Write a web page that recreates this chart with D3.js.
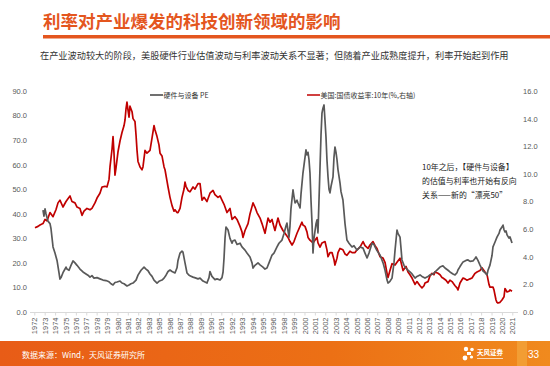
<!DOCTYPE html>
<html><head><meta charset="utf-8">
<script src="https://cdn.jsdelivr.net/npm/d3@7"></script>
<style>
html,body{margin:0;padding:0;background:#fff;}
svg{display:block;}
text{font-family:"Noto Sans CJK SC","Liberation Sans",Arial,sans-serif;}
.num{font-family:"Liberation Sans",Arial,sans-serif;}
</style></head><body>
<svg id="c" width="550" height="366"></svg>
<script>
const title = "利率对产业爆发的科技创新领域的影响";
const subtitle = "在产业波动较大的阶段，美股硬件行业估值波动与利率波动关系不显著；但随着产业成熟度提升，利率开始起到作用";
const seriesNames = ["硬件与设备 PE", "美国:国债收益率:10年(%,右轴)"];
const annotation = ["10年之后，【硬件与设备】", "的估值与利率也开始有反向", "关系——新的“漂亮50”"];
const source = "数据来源：Wind，天风证券研究所";
const pageNo = "33";
const xTickLabels = ["1972","1973","1974","1975","1976","1977","1978","1979","1980","1981","1982","1983","1985","1986","1987","1988","1989","1990","1991","1992","1993","1994","1995","1996","1998","1999","2000","2001","2002","2003","2004","2005","2006","2007","2008","2009","2011","2012","2013","2014","2015","2016","2017","2018","2019","2020","2021"];
const leftTicks = [0,10,20,30,40,50,60,70,80,90];
const rightTicks = [0,2,4,6,8,10,12,14,16];

// 硬件与设备 PE: [time, value]
const peData = [[1972.89,41.5],[1972.99,39],[1973.10,42],[1973.20,40],[1973.40,37],[1973.61,36],[1973.71,34],[1973.92,26.5],[1974.12,24],[1974.33,21],[1974.53,16],[1974.63,13.4],[1974.74,14],[1974.94,16],[1975.15,17.5],[1975.25,18.3],[1975.35,17.5],[1975.56,17],[1975.76,19],[1975.97,20.8],[1976.17,20],[1976.38,19],[1976.68,17.5],[1976.99,16.3],[1977.30,15.5],[1977.50,15],[1977.71,14.2],[1977.91,14.8],[1978.12,13.8],[1978.43,14],[1978.73,13.5],[1979.04,13],[1979.35,12.8],[1979.66,12.3],[1979.86,11.5],[1980.07,11],[1980.27,12],[1980.48,12.2],[1980.79,12.6],[1980.99,11.8],[1981.20,11.5],[1981.50,10.6],[1981.71,11],[1981.91,11.5],[1982.12,11.8],[1982.43,13],[1982.63,15],[1982.94,17],[1983.25,18.3],[1983.45,17.5],[1983.66,16.8],[1983.86,15.5],[1984.07,14.5],[1984.27,13],[1984.58,11.8],[1984.78,12.5],[1985.09,13],[1985.30,13.8],[1985.50,15],[1985.71,16.5],[1985.91,17.1],[1986.12,16.5],[1986.42,15.9],[1986.63,18],[1986.73,21],[1986.94,24],[1987.14,24.8],[1987.24,24.4],[1987.45,20],[1987.65,15.9],[1987.86,15],[1988.06,14.6],[1988.27,14.2],[1988.58,13.8],[1988.78,13.5],[1988.99,13.8],[1989.29,12.6],[1989.50,12.2],[1989.70,11.8],[1989.91,14],[1990.01,16.5],[1990.21,14.5],[1990.52,13.2],[1990.73,13.5],[1991.04,13],[1991.24,14],[1991.35,16.3],[1991.45,22],[1991.55,30],[1991.65,34.6],[1991.86,33.4],[1992.06,30],[1992.27,28],[1992.37,29],[1992.57,29.3],[1992.78,27.5],[1993.09,28],[1993.29,26.5],[1993.60,25.2],[1993.80,24],[1994.11,22.4],[1994.32,20],[1994.42,17.9],[1994.62,19],[1994.93,20],[1995.14,19.2],[1995.44,18.3],[1995.65,17.5],[1995.85,17.9],[1996.06,20],[1996.37,23.2],[1996.57,24],[1996.88,26.5],[1997.08,28],[1997.39,29.3],[1997.60,32],[1997.80,35],[1997.90,36.2],[1998.01,33],[1998.11,30.5],[1998.21,35],[1998.31,42],[1998.52,49.7],[1998.62,47],[1998.73,44.4],[1998.93,45.5],[1999.03,44.4],[1999.24,42.4],[1999.34,48],[1999.54,56.6],[1999.75,63],[1999.85,66],[1999.95,64],[2000.06,65],[2000.16,62],[2000.26,56.6],[2000.37,45],[2000.47,36.2],[2000.57,24],[2000.67,30],[2000.88,36],[2000.98,37.5],[2001.08,32.2],[2001.18,45],[2001.29,59],[2001.39,72],[2001.49,81],[2001.59,83],[2001.70,84.3],[2001.80,78],[2001.90,71.3],[2002.00,62],[2002.11,55],[2002.21,50],[2002.31,48.5],[2002.41,51],[2002.62,55],[2002.72,63],[2002.82,67.2],[2002.93,65],[2003.03,62],[2003.13,58],[2003.34,52.5],[2003.44,49],[2003.64,45.6],[2003.85,36],[2004.05,29.3],[2004.26,28],[2004.57,26.5],[2004.77,27],[2005.08,25.2],[2005.39,26.5],[2005.70,26],[2005.90,24],[2006.11,22],[2006.31,24],[2006.62,28],[2006.82,27.5],[2006.93,26.5],[2007.13,25],[2007.44,23.2],[2007.75,20],[2007.95,17.1],[2008.16,13],[2008.26,11.8],[2008.46,12.5],[2008.67,13.8],[2008.87,20],[2008.98,25.2],[2009.18,33.4],[2009.28,32],[2009.49,30.5],[2009.59,26],[2009.69,21.2],[2009.90,19],[2010.00,18.3],[2010.31,17],[2010.51,16.3],[2010.72,15.5],[2011.03,13.8],[2011.23,14.5],[2011.54,15.1],[2011.74,14.5],[2012.05,13.8],[2012.36,14.5],[2012.56,15.1],[2012.87,15.5],[2013.07,16.3],[2013.38,17.5],[2013.59,18.3],[2013.89,18.8],[2014.10,17.9],[2014.41,17],[2014.61,16.3],[2014.92,15.5],[2015.13,15.1],[2015.33,16],[2015.43,17.1],[2015.64,18.5],[2015.95,20.4],[2016.25,21],[2016.46,21.2],[2016.67,20.6],[2016.97,20.8],[2017.18,21.8],[2017.28,22.4],[2017.48,21],[2017.69,19.1],[2017.89,17.5],[2018.00,16.7],[2018.20,16],[2018.41,15.1],[2018.51,17],[2018.71,19.1],[2018.92,23],[2019.02,26.5],[2019.23,28.5],[2019.43,30.5],[2019.64,32],[2019.74,33.4],[2019.94,34.6],[2020.05,35.4],[2020.15,33.5],[2020.25,32.6],[2020.36,33],[2020.46,31.4],[2020.66,30.1],[2020.76,30.6],[2020.97,28.1]];

// 美国:国债收益率:10年 (%): [time, value]
const yieldData = [[1972.07,6.1],[1972.38,6.2],[1972.58,6.3],[1972.89,6.4],[1973.10,6.7],[1973.30,6.6],[1973.61,7.2],[1973.92,6.9],[1974.22,7.4],[1974.43,7.9],[1974.63,8.1],[1974.94,7.6],[1975.25,8.0],[1975.45,8.2],[1975.66,8.4],[1975.86,8.0],[1976.17,7.9],[1976.38,7.6],[1976.68,7.5],[1976.89,7.0],[1977.09,7.3],[1977.40,7.5],[1977.71,7.4],[1977.91,7.5],[1978.22,7.9],[1978.43,8.25],[1978.73,8.6],[1978.94,9.05],[1979.25,9.1],[1979.45,9.05],[1979.66,9.6],[1979.76,10.5],[1979.97,11.8],[1980.07,12.7],[1980.17,11.5],[1980.27,9.9],[1980.37,10.4],[1980.58,11.6],[1980.79,12.4],[1980.99,13.0],[1981.20,13.5],[1981.30,13.9],[1981.40,14.7],[1981.50,15.2],[1981.61,14.6],[1981.71,14.1],[1981.81,14.9],[1982.02,14.5],[1982.12,14.0],[1982.32,13.8],[1982.43,12.8],[1982.53,11.7],[1982.63,10.9],[1982.84,10.5],[1983.04,10.3],[1983.14,10.5],[1983.35,11.7],[1983.55,11.5],[1983.86,11.7],[1984.07,12.6],[1984.27,13.5],[1984.37,13.2],[1984.58,12.7],[1984.78,12.1],[1984.89,11.5],[1985.09,11.3],[1985.30,10.5],[1985.40,10.3],[1985.60,9.5],[1985.71,9.05],[1985.91,8.3],[1986.12,7.7],[1986.32,7.3],[1986.42,7.4],[1986.63,7.2],[1986.73,7.2],[1986.94,7.5],[1987.14,8.3],[1987.35,8.9],[1987.45,9.4],[1987.55,9.1],[1987.76,8.8],[1987.96,8.7],[1988.27,9.05],[1988.47,8.9],[1988.78,9.3],[1988.99,9.3],[1989.19,8.1],[1989.40,8.3],[1989.70,8.0],[1990.01,8.6],[1990.32,8.8],[1990.52,8.5],[1990.83,8.3],[1991.04,8.4],[1991.24,8.1],[1991.45,7.8],[1991.75,7.2],[1992.06,7.5],[1992.27,6.7],[1992.57,6.9],[1992.78,6.7],[1993.09,6.2],[1993.29,5.8],[1993.39,5.4],[1993.60,5.9],[1993.91,6.4],[1994.11,7.1],[1994.42,7.9],[1994.62,7.6],[1994.83,7.2],[1995.14,6.8],[1995.34,6.4],[1995.65,5.7],[1995.96,6.8],[1996.16,6.5],[1996.37,6.7],[1996.47,6.4],[1996.67,5.9],[1996.98,6.8],[1997.19,6.3],[1997.49,5.9],[1997.70,5.7],[1998.01,5.4],[1998.21,5.1],[1998.42,4.85],[1998.62,5.1],[1998.93,5.7],[1999.24,6.2],[1999.44,6.5],[1999.54,6.3],[1999.75,6.2],[1999.95,5.8],[2000.06,5.4],[2000.26,5.2],[2000.57,5.0],[2000.77,5.2],[2000.98,5.4],[2001.08,5.0],[2001.29,4.7],[2001.49,5.0],[2001.80,5.1],[2002.00,4.5],[2002.11,4.0],[2002.31,4.3],[2002.52,4.3],[2002.72,3.8],[2002.82,3.4],[2003.03,3.9],[2003.13,4.3],[2003.34,4.6],[2003.64,4.5],[2003.85,4.2],[2004.05,4.1],[2004.36,4.4],[2004.57,4.3],[2004.88,4.3],[2005.08,4.5],[2005.39,4.7],[2005.70,5.1],[2005.90,4.8],[2006.21,4.6],[2006.41,4.85],[2006.72,5.1],[2006.93,4.8],[2007.13,4.6],[2007.44,4.0],[2007.75,3.9],[2007.95,3.6],[2008.16,2.8],[2008.26,2.5],[2008.46,3.0],[2008.67,3.5],[2008.98,3.4],[2009.18,3.6],[2009.49,3.9],[2009.59,3.6],[2009.80,3.0],[2010.10,3.3],[2010.31,2.9],[2010.51,2.7],[2010.72,2.46],[2011.03,2.0],[2011.23,2.2],[2011.54,1.9],[2011.74,1.75],[2011.95,1.9],[2012.05,2.1],[2012.36,2.2],[2012.56,2.6],[2012.77,2.8],[2012.97,2.7],[2013.07,2.9],[2013.38,2.8],[2013.59,2.7],[2013.79,2.5],[2013.89,2.46],[2014.20,2.3],[2014.41,2.1],[2014.61,2.3],[2014.82,2.2],[2015.13,1.9],[2015.33,1.75],[2015.43,1.6],[2015.64,2.1],[2015.95,2.46],[2016.15,2.4],[2016.36,2.3],[2016.67,2.4],[2016.87,2.46],[2017.18,2.8],[2017.38,2.9],[2017.69,3.0],[2017.89,3.2],[2018.00,3.1],[2018.20,2.9],[2018.41,2.7],[2018.61,2.0],[2018.71,1.8],[2019.02,1.8],[2019.12,1.6],[2019.33,0.87],[2019.43,0.7],[2019.53,0.65],[2019.74,0.7],[2019.94,0.87],[2020.15,1.1],[2020.25,1.7],[2020.46,1.45],[2020.66,1.5],[2020.76,1.6],[2020.97,1.5]];

const colors = {title:"#E4561E", pe:"#595959", yield:"#C00000", axis:"#595959"};

const svg = d3.select("#c");

// Title + underline
svg.append("text").attr("x",43).attr("y",28).attr("font-size",17.5).attr("font-weight","bold")
  .attr("fill",colors.title).text(title);
svg.append("rect").attr("x",43).attr("y",35).attr("width",507).attr("height",3.5).attr("fill",colors.title);

// Subtitle
svg.append("text").attr("x",40).attr("y",58.5).attr("font-size",9.2).attr("fill","#333").text(subtitle);

// Scales
const x = d3.scaleLinear().domain([1972, 2021]).range([34.3, 512.3]);
const xLab = d3.scalePoint().domain(xTickLabels).range([34.3, 512.3]);
const yL = d3.scaleLinear().domain([0, 90]).range([312, 91]);
const yR = d3.scaleLinear().domain([0, 16]).range([312, 91]);

// Left axis
const gL = svg.append("g").attr("transform","translate(30,0)")
  .call(d3.axisLeft(yL).tickValues(leftTicks).tickFormat(d3.format(".1f")).tickSize(0).tickPadding(3));
gL.select(".domain").remove();
gL.selectAll("text").attr("class","num").attr("font-size",7.5).attr("fill",colors.axis);

// Right axis
const gR = svg.append("g").attr("transform","translate(520,0)")
  .call(d3.axisRight(yR).tickValues(rightTicks).tickFormat(d3.format(".1f")).tickSize(0).tickPadding(3));
gR.select(".domain").remove();
gR.selectAll("text").attr("class","num").attr("font-size",7.5).attr("fill",colors.axis);

// Bottom axis
svg.append("line").attr("x1",30).attr("x2",518).attr("y1",312.5).attr("y2",312.5)
  .attr("stroke","#d9d9d9").attr("stroke-width",1);
const gB = svg.append("g").attr("transform","translate(0,312.5)")
  .call(d3.axisBottom(xLab).tickSize(3).tickSizeOuter(0));
gB.select(".domain").remove();
gB.selectAll(".tick line").attr("stroke","#d9d9d9");
gB.selectAll("text").attr("class","num").attr("font-size",7.5).attr("fill",colors.axis)
  .attr("transform","rotate(-90)").attr("text-anchor","end").attr("x",-5).attr("y",0).attr("dy","0.35em");

// Lines
const linePE = d3.line().x(d=>x(d[0])).y(d=>yL(d[1]));
const lineY = d3.line().x(d=>x(d[0])).y(d=>yR(d[1]));
svg.append("path").datum(yieldData).attr("d",lineY).attr("fill","none")
  .attr("stroke",colors.yield).attr("stroke-width",1.7).attr("stroke-linejoin","round");
svg.append("path").datum(peData).attr("d",linePE).attr("fill","none")
  .attr("stroke",colors.pe).attr("stroke-width",1.7).attr("stroke-linejoin","round");

// Legend
const leg = [{x:150, c:"#404040", t:seriesNames[0]}, {x:307, c:colors.yield, t:seriesNames[1]}];
leg.forEach(l=>{
  svg.append("line").attr("x1",l.x).attr("x2",l.x+13).attr("y1",95).attr("y2",95).attr("stroke",l.c).attr("stroke-width",1.5);
  svg.append("text").attr("x",l.x+13.5).attr("y",97.5).attr("font-size",7).attr("fill","#333").text(l.t);
});

// Annotation
svg.append("g").selectAll("text").data(annotation).join("text")
  .attr("x",422).attr("y",(d,i)=>169.5+i*14.2).attr("font-size",7.9).attr("fill","#222").text(d=>d);

// Footer
const defs = svg.append("defs");
const grad = defs.append("linearGradient").attr("id","fg").attr("x1","0").attr("x2","1").attr("y1","0").attr("y2","0");
grad.append("stop").attr("offset","0").attr("stop-color","#E85C17");
grad.append("stop").attr("offset","0.6").attr("stop-color","#EC7015");
grad.append("stop").attr("offset","1").attr("stop-color","#F08A1E");
svg.append("rect").attr("x",0).attr("y",341).attr("width",550).attr("height",25).attr("fill","url(#fg)");
svg.append("rect").attr("x",517).attr("y",341).attr("width",10).attr("height",25).attr("fill","#F3A33A").attr("opacity",0.8);
svg.append("text").attr("x",22).attr("y",357.5).attr("font-size",8).attr("fill","#fff").text(source);
svg.append("text").attr("class","num").attr("x",528).attr("y",358).attr("font-size",10).attr("fill","#fff").text(pageNo);
// logo
const lg = svg.append("g").attr("fill","#fff");
lg.append("circle").attr("cx",466).attr("cy",349).attr("r",2.2);
lg.append("circle").attr("cx",472).attr("cy",349.5).attr("r",1.8);
lg.append("circle").attr("cx",465).attr("cy",358).attr("r",2.4);
lg.append("circle").attr("cx",471.5).attr("cy",357).attr("r",1.6);
lg.append("rect").attr("x",467).attr("y",352).attr("width",4).attr("height",3);
svg.append("text").attr("x",477).attr("y",355).attr("font-size",6.5).attr("font-weight","bold").attr("fill","#fff").text("天风证券");
svg.append("rect").attr("x",477).attr("y",358).attr("width",26).attr("height",1).attr("fill","#fff").attr("opacity",0.7);
</script>
</body></html>
